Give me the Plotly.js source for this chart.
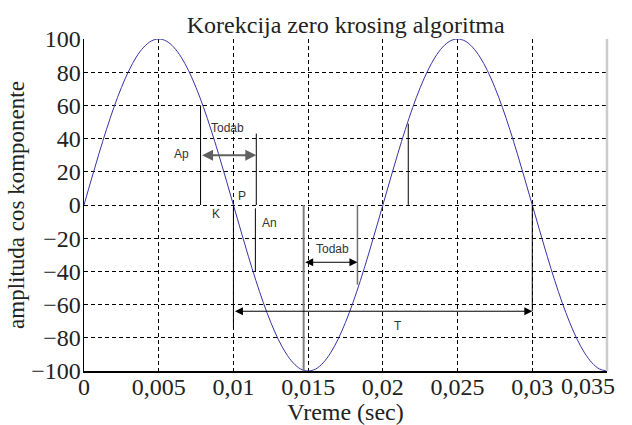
<!DOCTYPE html>
<html>
<head>
<meta charset="utf-8">
<script src="https://cdn.plot.ly/plotly-3.0.1.min.js"></script>
<style>html,body{margin:0;padding:0;background:#fff;}#chart{width:632px;height:425px;}</style>
</head>
<body>
<div id="chart"></div>
<script>
// Signal samples (time in s, amplitude)
const timeSec = [0,0.0005,0.001,0.0015,0.002,0.0025,0.003,0.0035,0.004,0.0045,
  0.005,0.0055,0.006,0.0065,0.007,0.0075,0.008,0.0085,0.009,0.0095,
  0.01,0.0105,0.011,0.0115,0.012,0.0125,0.013,0.0135,0.014,0.0145,
  0.015,0.0155,0.016,0.0165,0.017,0.0175,0.018,0.0185,0.019,0.0195,
  0.02,0.0205,0.021,0.0215,0.022,0.0225,0.023,0.0235,0.024,0.0245,
  0.025,0.0255,0.026,0.0265,0.027,0.0275,0.028,0.0285,0.029,0.0295,
  0.03,0.0305,0.031,0.0315,0.032,0.0325,0.033,0.0335,0.034,0.0345,0.035];
const amplitude = [0,15.6,30.9,45.4,58.8,70.7,80.9,89.1,95.1,98.8,
  100,98.8,95.1,89.1,80.9,70.7,58.8,45.4,30.9,15.6,
  0,-15.6,-30.9,-45.4,-58.8,-70.7,-80.9,-89.1,-95.1,-98.8,
  -100,-98.8,-95.1,-89.1,-80.9,-70.7,-58.8,-45.4,-30.9,-15.6,
  0,15.6,30.9,45.4,58.8,70.7,80.9,89.1,95.1,98.8,
  100,98.8,95.1,89.1,80.9,70.7,58.8,45.4,30.9,15.6,
  0,-15.6,-30.9,-45.4,-58.8,-70.7,-80.9,-89.1,-95.1,-98.8,-100];

// Vertical marker segments
const segX      = [0.0078, 0.01153, 0.01147, 0.01, 0.0147, 0.0183, 0.0217, 0.03];
const segYFrom  = [0, 0, -2, 0, 0, 0, 0, 0];
const segYTo    = [60, 43, -40, -74, -100, -48, 49, -64];
const segColor  = ['#000','#000','#000','#000','#808080','#707070','#000','#000'];
const segWidth  = [1, 1, 1, 1, 2, 1.5, 1, 1];

// Double-headed arrows
const arrXFrom = [0.0078, 0.0147, 0.01];
const arrXTo   = [0.01153, 0.0183, 0.03];
const arrY     = [30, -34.5, -64];
const arrColor = ['#606060', '#000', '#000'];
const arrWidth = [2, 1, 1];

// Text labels
const labelText = ['Ap', 'Todab', 'P', 'K', 'An', 'Todab', 'T'];
const labelX    = [0.0065, 0.0096, 0.0106, 0.0088, 0.0124, 0.01665, 0.021];
const labelY    = [31, 46.5, 5.5, -5.5, -11, -26.5, -73];

// Axis ticks
const xTicks = [0,0.005,0.01,0.015,0.02,0.025,0.03,0.035];
const xTickText = ['0','0,005','0,01','0,015','0,02','0,025','0,03','0,035'];
const yTicks = [-100,-80,-60,-40,-20,0,20,40,60,80,100];

const serif = 'Liberation Serif, Times New Roman, serif';
const sans = 'Liberation Sans, Arial, sans-serif';

const shapes = segX.map((x, i) => ({
  type: 'line', xref: 'x', yref: 'y', x0: x, x1: x, y0: segYFrom[i], y1: segYTo[i],
  line: {color: segColor[i], width: segWidth[i]}
}));
shapes.push({type:'line', xref:'paper', yref:'paper', x0:1, x1:1, y0:0, y1:1,
  line:{color:'#cccccc', width:2.5}});

const annotations = [];
arrXFrom.forEach((x0, i) => {
  annotations.push({
    x: arrXTo[i], y: arrY[i], ax: x0, ay: arrY[i], xref:'x', yref:'y', axref:'x', ayref:'y',
    text:'', showarrow:true, arrowside:'end+start', arrowhead:2, startarrowhead:2,
    arrowsize: arrWidth[i] > 1 ? 1.1 : 1.6, startarrowsize: arrWidth[i] > 1 ? 1.1 : 1.6,
    arrowwidth: arrWidth[i], arrowcolor: arrColor[i], standoff:0, startstandoff:0
  });
});
labelText.forEach((t, i) => {
  annotations.push({x: labelX[i], y: labelY[i], xref:'x', yref:'y', text: t, showarrow:false,
    font:{family: sans, size: 12, color:'#333'}});
});
// last x tick label does not fit centred: draw it right-aligned at its tick
const lastIdx = xTicks.length - 1;
annotations.push({x: xTicks[lastIdx], y: 0, xref:'x', yref:'paper', text: xTickText[lastIdx],
  showarrow:false, xanchor:'right', yanchor:'top', xshift: 10, yshift: 0,
  font:{family: serif, size: 24, color:'#222'}});

const trace = {
  x: timeSec, y: amplitude, type:'scatter', mode:'lines',
  line:{color:'#3535a5', width:1, shape:'spline'}, hoverinfo:'skip'
};

const layout = {
  width: 632, height: 425,
  margin: {l: 84, r: 25, t: 39, b: 54},
  paper_bgcolor: '#fff', plot_bgcolor: '#fff',
  showlegend: false,
  title: {text: 'Korekcija zero krosing algoritma', font:{family: serif, size: 24, color:'#222'},
    x: 0.547, xanchor:'center', y: 0.941, yanchor:'middle', yref:'container'},
  xaxis: {
    range: [0, 0.035], tickvals: xTicks,
    ticktext: xTickText.map((t, i) => i === lastIdx ? '' : t),
    ticks:'', showgrid:true, gridcolor:'#000', gridwidth:1,
    griddash:'4px,3px', zeroline:false, showline:true, linecolor:'#000', linewidth:1.5,
    tickfont:{family: serif, size: 24, color:'#222'}, ticklabelstandoff: -6,
    title:{text:'Vreme (sec)', font:{family: serif, size: 24, color:'#222'}, standoff: 0}
  },
  yaxis: {
    range: [-100, 100], tickvals: yTicks, ticks:'', showgrid:true, gridcolor:'#000', gridwidth:1,
    griddash:'4px,3px', zeroline:false, showline:true, linecolor:'#000', linewidth:1.5,
    tickfont:{family: serif, size: 24, color:'#222'}, ticklabelstandoff: -3,
    title:{text:'amplituda cos komponente', font:{family: serif, size: 23, color:'#222'}, standoff: 0}
  },
  shapes: shapes,
  annotations: annotations
};

Plotly.newPlot('chart', [trace], layout, {staticPlot: true});
</script>
</body>
</html>
